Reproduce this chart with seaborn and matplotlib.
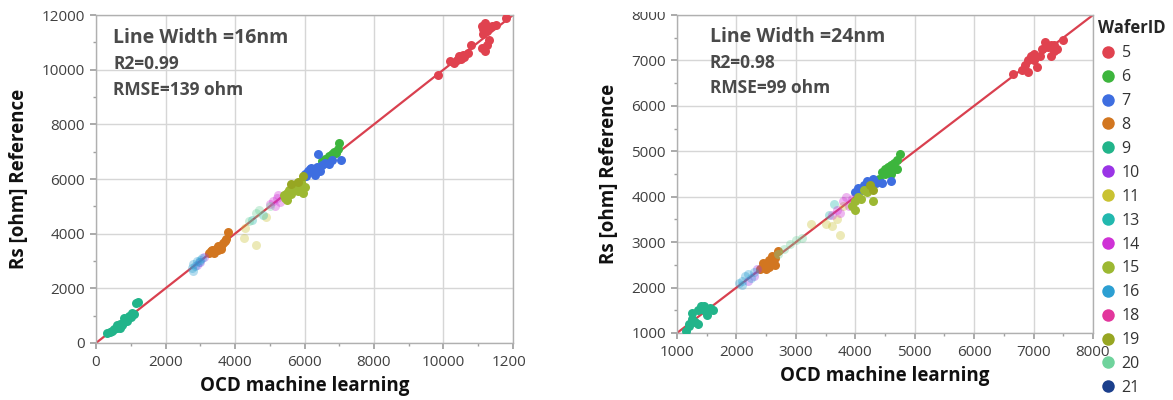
import matplotlib
matplotlib.use("Agg")
import matplotlib.pyplot as plt
from matplotlib.lines import Line2D
from matplotlib.ticker import MultipleLocator
from matplotlib.transforms import Bbox, TransformedBbox
import seaborn as sns
import pandas as pd

# ---------------- data ----------------
wafer_ids = [5, 6, 7, 8, 9, 10, 11, 13, 14, 15, 16, 18, 19, 20, 21]
wafer_colors = ["#E0424F", "#3DB53D", "#3E6EE0", "#D27620", "#22B48A", "#9A34E6",
                "#C9C232", "#22B8AE", "#CF32D6", "#9CB832", "#2C9FD2", "#E2369C",
                "#97A622", "#6FD39C", "#1B3F8C"]
faint_ids = [10, 11, 13, 14, 16, 18, 20]

# Line width = 16 nm panel: OCD machine learning (x) vs Rs reference (y), per wafer
lw16_w9_x = [330, 400, 450, 520, 600, 650, 700, 750, 800, 820, 880, 950, 1000, 1050, 1100, 1150, 1220, 600, 700]
lw16_w9_y = [380, 420, 450, 500, 560, 620, 700, 650, 760, 900, 820, 1000, 950, 1100, 1050, 1480, 1500, 650, 560]
lw16_w16_x = [2750, 2800, 2850, 2900, 2950, 3000, 3050, 2780]
lw16_w16_y = [2750, 2900, 2800, 3000, 2950, 3050, 3100, 2650]
lw16_w10_x = [2900, 3100, 3000]
lw16_w10_y = [2850, 3150, 2950]
lw16_w8_x = [3250, 3300, 3350, 3400, 3450, 3500, 3550, 3600, 3650, 3700, 3750, 3800, 3400, 3500, 3600]
lw16_w8_y = [3300, 3350, 3400, 3350, 3450, 3400, 3500, 3550, 3650, 3750, 3800, 4050, 3300, 3550, 3450]
lw16_w11_x = [4250, 4600, 4900, 4300]
lw16_w11_y = [3850, 3600, 4600, 4200]
lw16_w20_x = [4400, 4600, 4700, 5000]
lw16_w20_y = [4450, 4750, 4850, 5000]
lw16_w14_x = [5000, 5100, 5200, 5300, 5250, 5150]
lw16_w14_y = [5100, 5200, 5300, 5150, 5400, 5000]
lw16_w13_x = [4500, 4800]
lw16_w13_y = [4500, 4700]
lw16_w15_x = [5400, 5450, 5500, 5550, 5600, 5650, 5700, 5750, 5800, 5850, 5950, 5900, 6000, 5500]
lw16_w15_y = [5400, 5300, 5500, 5600, 5450, 5700, 5650, 5800, 5550, 5750, 5500, 5900, 5700, 5250]
lw16_w19_x = [5600, 5800, 5950]
lw16_w19_y = [5800, 5900, 6100]
lw16_w7_x = [6000, 6050, 6100, 6200, 6250, 6300, 6350, 6400, 6450, 6500, 6600, 6700, 6800, 7050, 6150]
lw16_w7_y = [6200, 6100, 6300, 6400, 6250, 6150, 6450, 6900, 6300, 6500, 6600, 6550, 6700, 6700, 6350]
lw16_w6_x = [6500, 6600, 6700, 6750, 6800, 6850, 6900, 6950, 7000, 6650]
lw16_w6_y = [6650, 6750, 6850, 6800, 6900, 7000, 6950, 7100, 7300, 6700]
lw16_w5_x = [9850, 10200, 10300, 10400, 10450, 10500, 10550, 10600, 10700, 10800, 11100, 11150, 11200,
             11250, 11300, 11100, 11200, 11250, 11300, 11400, 11500, 11800, 11150]
lw16_w5_y = [9800, 10300, 10250, 10350, 10500, 10400, 10550, 10450, 10600, 10900, 11600, 11500, 11700,
             11400, 11550, 10800, 10700, 10900, 11100, 11600, 11650, 11900, 11300]

# Line width = 24 nm panel
lw24_w9_x = [1150, 1200, 1250, 1300, 1350, 1250, 1350, 1400, 1450, 1500, 1550, 1600, 1200, 1450]
lw24_w9_y = [1050, 1200, 1300, 1250, 1200, 1450, 1500, 1600, 1500, 1400, 1550, 1500, 1150, 1600]
lw24_w16_x = [2050, 2100, 2150, 2200, 2250, 2300, 2100]
lw24_w16_y = [2100, 2150, 2250, 2300, 2200, 2350, 2050]
lw24_w10_x = [2300, 2350, 2200]
lw24_w10_y = [2250, 2400, 2150]
lw24_w8_x = [2400, 2450, 2500, 2550, 2600, 2650, 2500, 2600, 2700, 2550, 2650, 2450]
lw24_w8_y = [2400, 2450, 2500, 2450, 2550, 2650, 2400, 2700, 2800, 2600, 2500, 2550]
lw24_w20_x = [2700, 2800, 2900, 3000, 3100]
lw24_w20_y = [2750, 2850, 2950, 3050, 3100]
lw24_w11_x = [3250, 3500, 3700, 3750, 3600, 3800]
lw24_w11_y = [3400, 3400, 3500, 3150, 3350, 3800]
lw24_w14_x = [3600, 3700, 3800, 3900, 3850, 3950, 3750]
lw24_w14_y = [3600, 3700, 3900, 3800, 4000, 3950, 3650]
lw24_w13_x = [3550, 3650]
lw24_w13_y = [3600, 3850]
lw24_w15_x = [3950, 4000, 4050, 4000, 4100, 4200, 4250, 4300, 4150]
lw24_w15_y = [3800, 3900, 4000, 3700, 3950, 4100, 4200, 3900, 4150]
lw24_w19_x = [4250, 4300]
lw24_w19_y = [4250, 4150]
lw24_w7_x = [4000, 4050, 4100, 4150, 4200, 4250, 4350, 4450, 4600, 4300]
lw24_w7_y = [4100, 4200, 4150, 4250, 4350, 4300, 4300, 4300, 4350, 4400]
lw24_w6_x = [4400, 4450, 4500, 4550, 4600, 4650, 4700, 4750, 4600, 4700, 4500, 4650]
lw24_w6_y = [4400, 4550, 4500, 4650, 4700, 4600, 4800, 4950, 4500, 4600, 4600, 4750]
lw24_w5_x = [6650, 6800, 6850, 6900, 6950, 7000, 7050, 7000, 6900, 7100, 7200, 7250, 7300, 7350, 7300,
             7400, 7500, 7150, 7350]
lw24_w5_y = [6700, 6800, 6900, 7000, 7100, 7000, 6850, 7150, 6750, 7100, 7400, 7300, 7350, 7200, 7100,
             7250, 7450, 7250, 7350]

fit16_x = [0, 12000]
fit16_y = [0, 12000]
fit24_x = [1000, 8000]
fit24_y = [1000, 8000]

titles = ["Line Width =16nm", "Line Width =24nm"]
stats = [["R2=0.99", "RMSE=139 ohm"], ["R2=0.98", "RMSE=99 ohm"]]


def build(prefix):
    rows = []
    g = globals()
    for w in wafer_ids:
        kx, ky = f"{prefix}_w{w}_x", f"{prefix}_w{w}_y"
        if kx in g:
            for x, y in zip(g[kx], g[ky]):
                rows.append((w, x, y))
    return pd.DataFrame(rows, columns=["WaferID", "ocd", "rs"])


df16 = build("lw16")
df24 = build("lw24")

# ---------------- plot ----------------
sns.set_theme(style="whitegrid")
plt.rcParams["font.family"] = ["Open Sans", "DejaVu Sans"]

W, H = 1173, 400
fig = plt.figure(figsize=(W / 100, H / 100), dpi=100)
ax1 = fig.add_axes([96 / W, 57 / H, 417 / W, 328 / H])
ax2 = fig.add_axes([677 / W, 67 / H, 416 / W, 318 / H])

color_map = dict(zip(wafer_ids, wafer_colors))
panels = [(ax1, df16, fit16_x, fit16_y, (0, 12000), 2000, 1000, 0.041),
          (ax2, df24, fit24_x, fit24_y, (1000, 8000), 1000, 500, 0.079)]

for i, (ax, df, fx, fy, lim, major, minor, tx) in enumerate(panels):
    sns.lineplot(x=fx, y=fy, ax=ax, color="#D9404F", linewidth=1.6, zorder=1)
    for w in wafer_ids:
        sub = df[df["WaferID"] == w]
        if len(sub) == 0:
            continue
        sns.scatterplot(data=sub, x="ocd", y="rs", ax=ax, color=color_map[w],
                        alpha=0.35 if w in faint_ids else 1.0, s=42, linewidth=0,
                        legend=False, zorder=3)
    ax.set_xlim(lim)
    ax.set_ylim(lim)
    ax.xaxis.set_major_locator(MultipleLocator(major))
    ax.yaxis.set_major_locator(MultipleLocator(major))
    ax.xaxis.set_minor_locator(MultipleLocator(minor))
    ax.yaxis.set_minor_locator(MultipleLocator(minor))
    ax.grid(True, which="major", color="#D6D6D6", linewidth=1.0)
    ax.grid(False, which="minor")
    ax.tick_params(axis="both", which="major", labelsize=11, labelcolor="#404040",
                   length=4, color="#A0A0A0", bottom=True, left=True, direction="out", pad=4)
    ax.tick_params(axis="both", which="minor", length=2.5, color="#A0A0A0",
                   bottom=True, left=True, direction="out")
    ax.tick_params(axis="x", which="major", pad=5)
    for sp in ax.spines.values():
        sp.set_color("#B0B0B0")
        sp.set_linewidth(1.0)
    ax.set_facecolor("white")
    ax.set_xlabel("OCD machine learning", fontsize=13.5, fontweight="bold", color="#111111", labelpad=4)
    ax.set_ylabel("Rs [ohm] Reference", fontsize=13.5, fontweight="bold", color="#111111", labelpad=9)
    ax.text(tx, 0.93, titles[i], transform=ax.transAxes, fontsize=14,
            fontweight="bold", color="#4A4A4A", va="center")
    ax.text(tx, 0.85, stats[i][0], transform=ax.transAxes, fontsize=12.5,
            fontweight="bold", color="#4A4A4A", va="center")
    ax.text(tx, 0.77, stats[i][1], transform=ax.transAxes, fontsize=12.5,
            fontweight="bold", color="#4A4A4A", va="center")

handles = [Line2D([0], [0], marker="o", linestyle="", markersize=9,
                  markerfacecolor=c, markeredgewidth=0) for c in wafer_colors]
leg = fig.legend(handles, [str(w) for w in wafer_ids], title="WaferID",
                 loc="upper left", bbox_to_anchor=(1092 / W, 1 - 13 / H), frameon=False,
                 fontsize=11.5, title_fontsize=12, labelspacing=0.495, handletextpad=0.25,
                 handlelength=1.2, borderaxespad=0, alignment="left")
leg.get_title().set_fontweight("bold")
for t in leg.get_texts():
    t.set_color("#333333")

# the reference image is cropped: last x label of the left panel and top y label of the right one
fig.canvas.draw()
clip_left = TransformedBbox(Bbox.from_extents(0, 0, 525 / W, 1), fig.transFigure)
for lab in ax1.get_xticklabels():
    lab.set_clip_box(clip_left)
    lab.set_clip_on(True)
clip_top = TransformedBbox(Bbox.from_extents(0, 0, 1, 1 - 12 / H), fig.transFigure)
for lab in ax2.get_yticklabels():
    lab.set_clip_box(clip_top)
    lab.set_clip_on(True)

fig.savefig("out.png", dpi=100)
